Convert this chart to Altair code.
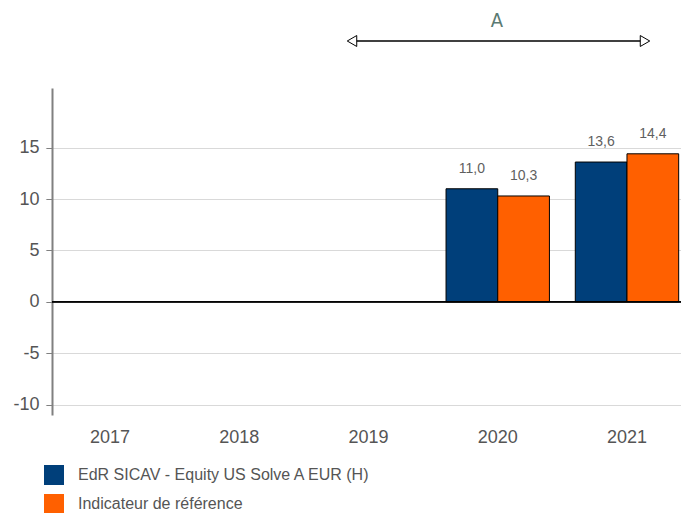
import altair as alt
import pandas as pd

years = ["2017", "2018", "2019", "2020", "2021"]
series = ["EdR SICAV - Equity US Solve A EUR (H)", "Indicateur de référence"]
fund = [None, None, None, 11.0, 13.6]
bench = [None, None, None, 10.3, 14.4]
colors = ["#003F7A", "#FF6000"]

rows = []
for i, y in enumerate(years):
    for s, vals in zip(series, [fund, bench]):
        v = vals[i]
        rows.append({"year": y, "series": s, "value": v,
                     "label": (f"{v:.1f}".replace(".", ",") if v is not None else "")})
df = pd.DataFrame(rows)
df_bars = df.dropna(subset=["value"])

font = "Liberation Sans"
xscale = alt.Scale(domain=years, range=[-6.6, 639.6], paddingInner=0.2, paddingOuter=0.1)
yscale = alt.Scale(domain=[-11, 20.8], nice=False, zero=False)

x_axis = alt.Axis(domain=False, ticks=False, labelAngle=0, labelFontSize=18,
                  labelColor="#555555", labelFont=font, labelPadding=13, grid=False)
y_axis = alt.Axis(values=[-10, -5, 0, 5, 10, 15], grid=True, gridColor="#d9d9d9",
                  domainColor="#808080", domainWidth=2, tickColor="#808080",
                  tickSize=6, labelFontSize=18, labelColor="#555555", labelFont=font,
                  labelPadding=7, labelExpr="replace(format(datum.value, 'd'), '\u2212', '-')")

base = alt.Chart(df_bars)
x_enc = alt.X("year:N", scale=xscale, title=None, axis=x_axis)
y_enc = alt.Y("value:Q", scale=yscale, title=None, axis=y_axis)
xo = alt.XOffset("series:N", scale=alt.Scale(domain=series))

bars = base.mark_bar(stroke="black", strokeWidth=1).encode(
    x=x_enc,
    xOffset=xo,
    y=y_enc,
    y2=alt.datum(0),
    color=alt.Color("series:N", scale=alt.Scale(domain=series, range=colors),
                    legend=alt.Legend(title=None, orient="none", legendX=-8, legendY=377,
                                      symbolType="square", symbolSize=400, symbolStrokeWidth=0,
                                      labelFontSize=16, labelColor="#555555", labelFont=font,
                                      labelLimit=600, rowPadding=9, labelOffset=14)),
)

labels = base.mark_text(dy=-20, fontSize=14, color="#5f5f5f", font=font).encode(
    x=x_enc,
    xOffset=xo,
    y=y_enc,
    text="label:N",
)

zero = base.mark_rule(color="black", strokeWidth=1).encode(
    y=alt.datum(0)
)

ann_df = pd.DataFrame({"t": ["A"]})
ann_text = alt.Chart(ann_df).mark_text(fontSize=20, color="#5a7a72", font="DejaVu Sans Condensed").encode(
    x=alt.value(445), y=alt.value(-67), text="t:N")
ann_line = alt.Chart(ann_df).mark_rule(color="black", strokeWidth=1.5).encode(
    x=alt.value(300), x2=alt.value(593), y=alt.value(-47))
ann_left = alt.Chart(ann_df).mark_point(shape="triangle-left", size=120, filled=True,
                                        fill="white", stroke="black", strokeWidth=1, opacity=1).encode(
    x=alt.value(300), y=alt.value(-47))
ann_right = alt.Chart(ann_df).mark_point(shape="triangle-right", size=120, filled=True,
                                         fill="white", stroke="black", strokeWidth=1, opacity=1).encode(
    x=alt.value(593), y=alt.value(-47))

chart = alt.layer(bars, zero, labels, ann_line, ann_left, ann_right, ann_text).properties(
    width=629, height=327,
    background="white",
    autosize=alt.AutoSizeParams(type="none"),
    padding={"left": 52, "top": 88, "right": 0, "bottom": 98},
).configure_view(stroke=None)

chart.save("out.html", embed_options={"renderer": "svg", "actions": False})
